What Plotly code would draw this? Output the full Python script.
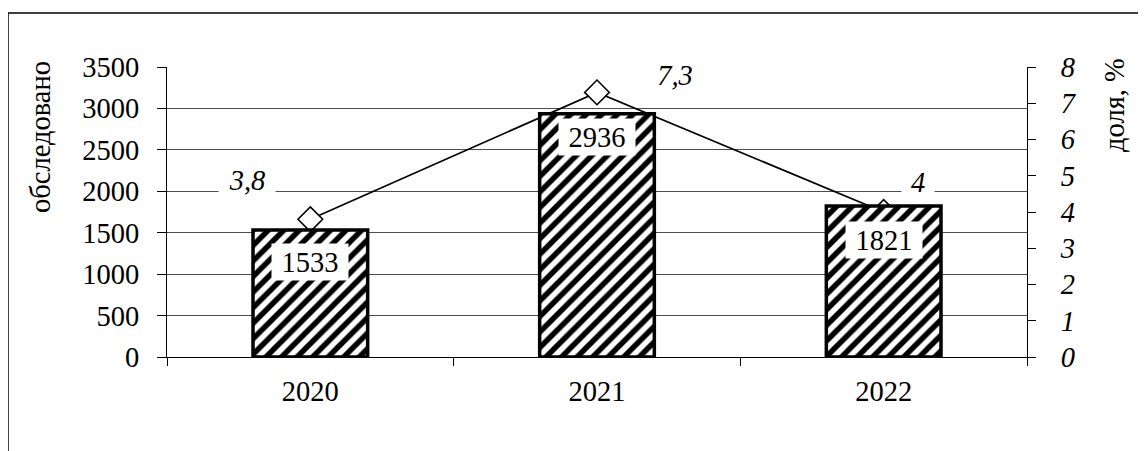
import plotly.graph_objects as go

# ---- data ----
years = ["2020", "2021", "2022"]
examined = [1533, 2936, 1821]
share = [3.8, 7.3, 4.0]
share_text = ["3,8", "7,3", "4"]
left_ticks = [0, 500, 1000, 1500, 2000, 2500, 3000, 3500]
right_ticks = [0, 1, 2, 3, 4, 5, 6, 7, 8]

# ---- style (offsets / box sizes of labels, in px) ----
bar_label_shift = [-32, -23, -34]
share_label_xshift = [-63, 78, 34]
share_label_yshift = [39, 17, 30]
share_label_width = [54, 54, 30]

FONT = "Liberation Serif, Times New Roman, serif"
FS = 28.5

fig = go.Figure()

# line on primary y (right side), drawn beneath the bars
fig.add_trace(go.Scatter(
    x=years, y=share, yaxis="y", xaxis="x",
    mode="lines+markers",
    line=dict(color="black", width=1.7),
    marker=dict(symbol="diamond", size=19, color="white",
                line=dict(color="black", width=1.6)),
    cliponaxis=False, showlegend=False, hoverinfo="skip",
))

# bars on overlaying y2 (left side)
fig.add_trace(go.Bar(
    x=years, y=examined, yaxis="y2", xaxis="x",
    width=0.4,
    marker=dict(color="white",
                line=dict(color="black", width=3.5),
                pattern=dict(shape="/", fgcolor="black", bgcolor="white",
                             fgopacity=1, size=11, solidity=0.5)),
    showlegend=False, hoverinfo="skip",
))

annotations = []
for i, v in enumerate(examined):
    annotations.append(dict(
        x=i, y=v, xref="x", yref="y2", text=str(v), showarrow=False,
        xanchor="center", yanchor="middle",
        yshift=bar_label_shift[i], bgcolor="white", width=74, height=34,
        font=dict(family=FONT, size=FS, color="black"),
    ))
for i, v in enumerate(share):
    annotations.append(dict(
        x=i, y=v, xref="x", yref="y", text=share_text[i], showarrow=False,
        xanchor="center", yanchor="middle",
        xshift=share_label_xshift[i], yshift=share_label_yshift[i],
        bgcolor="white", width=share_label_width[i], borderpad=1,
        font=dict(family=FONT, size=FS, color="black", style="italic"),
    ))
# axis titles
annotations.append(dict(
    x=-0.1477, y=0.7586, xref="paper", yref="paper", text="обследовано",
    textangle=-90, showarrow=False, xanchor="center", yanchor="middle",
    font=dict(family=FONT, size=FS, color="black"),
))
annotations.append(dict(
    x=1.1023, y=0.869, xref="paper", yref="paper", text="доля, %",
    textangle=-90, showarrow=False, xanchor="center", yanchor="middle",
    font=dict(family=FONT, size=FS, color="black"),
))

fig.update_layout(
    width=1138, height=443,
    margin=dict(l=159, r=119, t=59, b=94),
    paper_bgcolor="white", plot_bgcolor="white",
    font=dict(family=FONT, size=FS, color="black"),
    annotations=annotations,
    xaxis=dict(
        type="category", range=[-0.5, 2.5],
        showgrid=False, showline=True, linecolor="black", linewidth=1,
        ticks="outside", tickson="boundaries", ticklen=8, tickcolor="black",
        tickfont=dict(family=FONT, size=FS), ticklabelstandoff=9,
        zeroline=False,
    ),
    xaxis2=dict(
        overlaying="x", anchor="y", side="bottom", type="linear",
        range=[-0.5, len(years) - 0.5],
        tickvals=[i + 0.5 for i in range(len(years) - 1)],
        ticks="inside", ticklen=8, tickcolor="black",
        showticklabels=False, showgrid=False, showline=False, zeroline=False,
    ),
    yaxis=dict(
        side="right", range=[0, 8], tickvals=right_ticks,
        showgrid=False, showline=True, linecolor="black", linewidth=1,
        ticks="outside", ticklen=8, tickcolor="black",
        tickfont=dict(family=FONT, size=FS, style="italic"),
        ticklabelstandoff=19, zeroline=False,
    ),
    yaxis2=dict(
        overlaying="y", side="left", anchor="x", range=[0, 3500],
        tickvals=left_ticks,
        showgrid=True, gridcolor="#4d4d4d", gridwidth=1,
        showline=True, linecolor="black", linewidth=1,
        ticks="outside", ticklen=9, tickcolor="black",
        tickfont=dict(family=FONT, size=FS), ticklabelstandoff=12,
        zeroline=False,
    ),
    yaxis3=dict(
        overlaying="y", side="right", anchor="x", range=[0, 8],
        tickvals=right_ticks, ticks="inside", ticklen=8, tickcolor="black",
        showticklabels=False, showgrid=False, showline=False, zeroline=False,
    ),
    shapes=[dict(
        type="rect", xref="paper", yref="paper",
        x0=-0.1849, x1=1.15, y0=-0.36, y1=1.1862,
        line=dict(color="black", width=1.5), fillcolor="rgba(0,0,0,0)",
        layer="above",
    )],
)

fig.write_html("out.html")
